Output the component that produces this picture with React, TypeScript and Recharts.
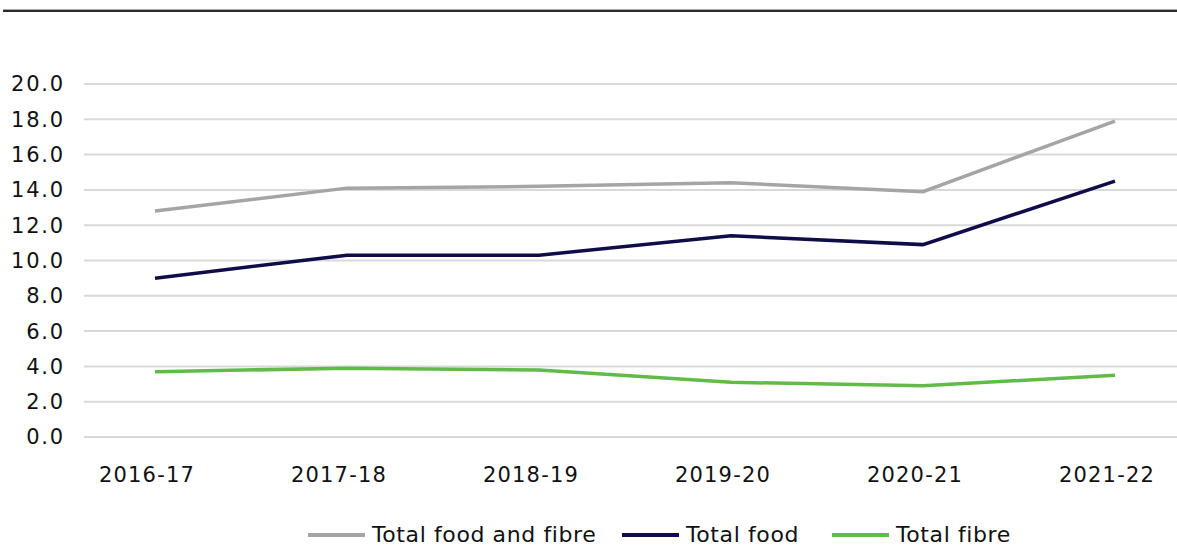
import { LineChart, Line, XAxis, YAxis, CartesianGrid, Legend } from "recharts";

const years = ["2016-17", "2017-18", "2018-19", "2019-20", "2020-21", "2021-22"];
const foodAndFibre = [12.8, 14.1, 14.2, 14.4, 13.9, 17.9];
const food = [9.0, 10.3, 10.3, 11.4, 10.9, 14.5];
const fibre = [3.7, 3.9, 3.8, 3.1, 2.9, 3.5];
const yTicks = [0, 2, 4, 6, 8, 10, 12, 14, 16, 18, 20];

const series = [
  { key: "foodAndFibre", name: "Total food and fibre", color: "#a5a5a5", width: 314 },
  { key: "food", name: "Total food", color: "#0f0c4a", width: 210 },
  { key: "fibre", name: "Total fibre", color: "#62bb48", width: 200 },
];

const data = years.map((year, i) => ({
  year,
  foodAndFibre: foodAndFibre[i],
  food: food[i],
  fibre: fibre[i],
}));

const font = "'DejaVu Sans', sans-serif";

function LegendBox() {
  return (
    <div
      style={{
        height: 24,
        display: "flex",
        alignItems: "center",
        paddingLeft: 308,
        fontFamily: font,
        fontSize: 22,
        lineHeight: "24px",
        letterSpacing: 0.6,
        color: "#111",
        whiteSpace: "nowrap",
      }}
    >
      {series.map((s) => (
        <div key={s.key} style={{ display: "flex", alignItems: "center", width: s.width }}>
          <span style={{ width: 57, height: 4, background: s.color, marginRight: 7, display: "inline-block" }} />
          <span>{s.name}</span>
        </div>
      ))}
    </div>
  );
}

export default function App() {
  return (
    <div style={{ position: "fixed", left: 0, top: 0, width: 1177, height: 547, background: "#fff", overflow: "hidden" }}>
      <div style={{ position: "absolute", left: 3, top: 9, width: 1174, height: 2, background: "#2b2b2b", borderTop: "1px solid #aaa" }} />
      <LineChart width={1177} height={547} data={data} margin={{ top: 84, right: 0, left: 0, bottom: 0 }}>
        <CartesianGrid vertical={false} stroke="#d9d9d9" strokeWidth={2} />
        <XAxis
          dataKey="year"
          axisLine={false}
          tickLine={false}
          tickMargin={24}
          height={86}
          padding={{ left: 71, right: 62 }}
          tick={{ fill: "#111", fontSize: 21, fontFamily: font, dx: -8, letterSpacing: 1.2 }}
          interval={0}
        />
        <YAxis
          domain={[0, 20]}
          ticks={yTicks}
          width={84}
          axisLine={false}
          tickLine={false}
          tickMargin={13}
          tickFormatter={(v: number) => v.toFixed(1)}
          tick={{ fill: "#111", fontSize: 21, fontFamily: font, letterSpacing: 1.8 }}
        />
        {series.map((s) => (
          <Line
            key={s.key}
            type="linear"
            dataKey={s.key}
            name={s.name}
            stroke={s.color}
            strokeWidth={3.5}
            dot={false}
            activeDot={false}
            isAnimationActive={false}
          />
        ))}
        <Legend verticalAlign="bottom" content={() => <LegendBox />} />
      </LineChart>
    </div>
  );
}
